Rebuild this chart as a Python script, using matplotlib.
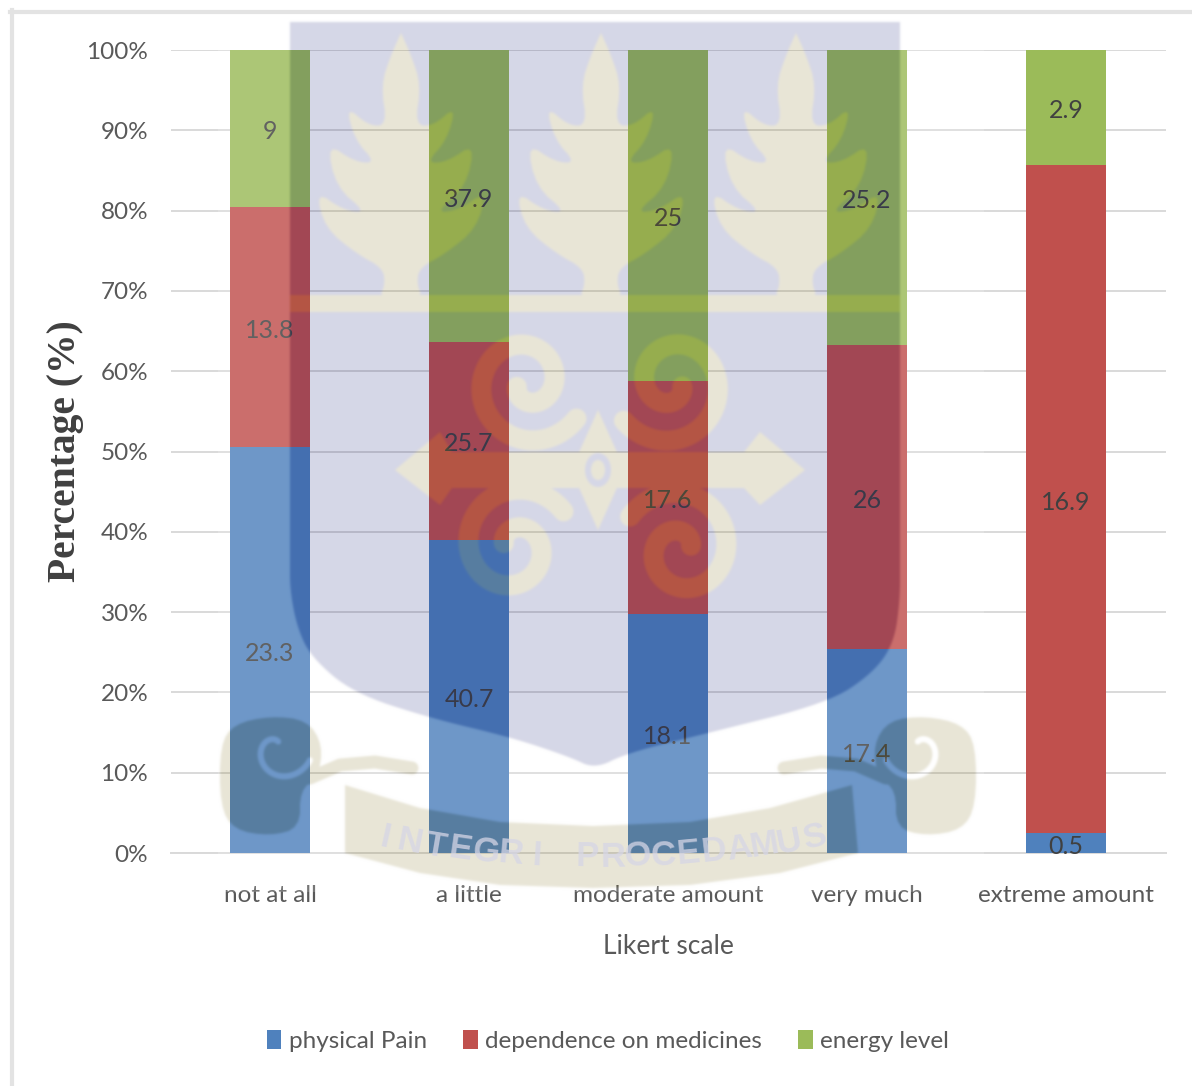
import numpy as np
import matplotlib
matplotlib.use('Agg')
import matplotlib.pyplot as plt
from matplotlib.figure import Figure
from matplotlib.backends.backend_agg import FigureCanvasAgg
from matplotlib.lines import Line2D
from matplotlib.patches import Polygon, Ellipse

plt.rcParams['font.family'] = ['Lato', 'DejaVu Sans']

categories = ['not at all', 'a little', 'moderate amount', 'very much', 'extreme amount']
physical_pain = [23.3, 40.7, 18.1, 17.4, 0.5]
dependence = [13.8, 25.7, 17.6, 26, 16.9]
energy_level = [9, 37.9, 25, 25.2, 2.9]
series_names = ['physical Pain', 'dependence on medicines', 'energy level']
series_colors = ['#4f81bd', '#c0504d', '#9bbb59']
motto = 'INTEGRI PROCEDAMUS'

W, H = 1192, 1086
NAVY = (22/255, 30/255, 119/255)
CREAM = (128/255, 111/255, 28/255)
STAMP_ALPHA = 0.18
px = 0.72  # one pixel in points at dpi 100


def chaikin(points, rounds=2, closed=True):
    # corner cutting, rounds off the hand placed outlines
    pts = np.array(points, dtype=float)
    for _ in range(rounds):
        nxt = np.roll(pts, -1, axis=0) if closed else pts[1:]
        cur = pts if closed else pts[:-1]
        q = 0.75 * cur + 0.25 * nxt
        r = 0.25 * cur + 0.75 * nxt
        new = np.empty((len(q) * 2, 2))
        new[0::2] = q
        new[1::2] = r
        pts = new if closed else np.vstack([pts[0], new, pts[-1]])
    return pts


def spiral(ax, cx, cy, r0, turns, start, direction, lw, color=CREAM):
    t = np.linspace(0, 1, 120)
    ang = start + direction * 2 * np.pi * turns * t
    r = r0 * (1 - 0.82 * t)
    ax.plot(cx + r * np.cos(ang), cy + r * np.sin(ang) * 1.05, color=color,
            lw=lw * px, solid_capstyle='round')


def draw_plant(ax, cx):
    half = [(0, 33), (10, 55), (20, 85), (14, 125), (32, 126), (55, 106), (46, 140),
            (25, 163), (46, 162), (74, 143), (65, 187), (34, 213), (58, 210), (85, 191),
            (76, 228), (44, 254), (18, 268), (16, 285), (22, 298)]
    right = [(cx + dx, y) for dx, y in half]
    left = [(cx - dx, y) for dx, y in half[::-1]]
    ax.add_patch(Polygon(chaikin(right + left), fc=CREAM, ec='none'))


def draw_scroll_end(ax, sign):
    # sign flips the end of the ribbon about the middle of the crest
    m = 598
    blob = [(220, 745), (234, 724), (270, 716), (307, 720), (323, 745), (318, 778), (300, 790),
            (300, 828), (270, 836), (234, 830), (220, 806)]
    ax.add_patch(Polygon([(m + sign * (x - m), y) for x, y in chaikin(blob)], fc=CREAM, ec='none'))
    xs = np.array([310, 340, 375, 412])
    ys = np.array([778, 765, 762, 768])
    ax.plot(m + sign * (xs - m), ys, color=CREAM, lw=13 * px, solid_capstyle='round')
    spiral(ax, m + sign * (278 - m), 748, 34, 0.7, np.radians(20 if sign > 0 else 160),
           sign, 6, color='white')


def watermark():
    f = Figure(figsize=(W / 100, H / 100), dpi=100)
    canvas = FigureCanvasAgg(f)
    ax = f.add_axes([0, 0, 1, 1])
    ax.set_xlim(0, W)
    ax.set_ylim(H, 0)
    ax.axis('off')
    f.patch.set_facecolor('white')

    lower_edge = [(900, 560), (900, 600), (894, 643), (873, 673), (828, 703), (708, 733),
                  (627, 753), (595, 769), (570, 757), (510, 737), (430, 718), (353, 693), (311, 657),
                  (297, 627), (290, 590), (290, 560)]
    shield = np.vstack([[(290, 22), (900, 22)], chaikin(lower_edge, 3, closed=False)])
    ax.add_patch(Polygon(shield, fc=NAVY, ec='none'))

    for cx in [401, 601, 796]:
        draw_plant(ax, cx)
    ax.fill_between([290, 900], 295, 312, color=CREAM, lw=0)

    # cross arms behind the four volutes
    ax.add_patch(Polygon([(395, 470), (440, 432), (452, 452), (744, 452), (760, 432), (805, 470),
                          (760, 505), (744, 488), (452, 488), (440, 505)], fc=CREAM, ec='none'))
    ax.add_patch(Polygon([(598, 410), (625, 470), (598, 530), (571, 470)], fc=CREAM, ec='none'))
    for cx, cy, start, d in [(527, 383, 0.6, 1), (672, 383, 2.5, -1),
                             (514, 547, -0.6, -1), (681, 550, 3.7, 1)]:
        spiral(ax, cx, cy, 60, 1.35, start, d, 20)
    ax.add_patch(Ellipse((598, 470), 26, 34, fc=NAVY, ec='none'))
    ax.add_patch(Ellipse((598, 470), 14, 20, fc=CREAM, ec='none'))

    draw_scroll_end(ax, 1)
    draw_scroll_end(ax, -1)
    ribbon = [(345, 785), (420, 808), (500, 822), (593, 826), (690, 822), (770, 808), (852, 785),
              (858, 853), (780, 873), (690, 885), (593, 888), (500, 885), (420, 873), (345, 853)]
    ax.add_patch(Polygon(ribbon, fc=CREAM, ec='none'))

    canvas.draw()
    rgba = np.asarray(canvas.buffer_rgba()).astype(float)
    # soften the crest edges a little
    for _ in range(3):
        rgba = (rgba + np.roll(rgba, 1, 0) + np.roll(rgba, -1, 0)
                + np.roll(rgba, 1, 1) + np.roll(rgba, -1, 1)) / 5
    rgba[..., 3] = 0
    rgba[16:892, 218:984, 3] = 255 * STAMP_ALPHA
    return rgba.astype(np.uint8)


totals = np.array(physical_pain) + np.array(dependence) + np.array(energy_level)
x = np.arange(len(categories))

fig = plt.figure(figsize=(W / 100, H / 100), dpi=100)
ax = fig.add_axes([170.5 / W, 1 - 853 / H, 995 / W, 803 / H])

bottom = np.zeros(len(categories))
bars = []
for values, name, color in zip([physical_pain, dependence, energy_level], series_names, series_colors):
    share = 100 * np.array(values) / totals
    b = ax.bar(x, share, 0.4, bottom=bottom, color=color, label=name, zorder=3)
    bars.append(b)
    for xi, bot, h, v in zip(x, bottom, share, values):
        ax.text(xi, bot + h / 2 - 0.4, f'{v:g}', ha='center', va='center', fontsize=18,
                color='#404040', zorder=4)
    bottom += share

ax.set_xlim(-0.5, 4.5)
ax.set_ylim(0, 100)
ax.set_yticks(np.arange(0, 101, 10))
ax.set_yticklabels([f'{v}%' for v in range(0, 101, 10)])
ax.set_xticks(x)
ax.set_xticklabels(categories)
ax.tick_params(axis='both', length=0, labelsize=17.5, labelcolor='#595959')
ax.tick_params(axis='x', pad=23)
ax.tick_params(axis='y', pad=16)
ax.grid(axis='y', color='#d9d9d9', lw=1.4, zorder=0)
ax.set_axisbelow(True)
for side in ['top', 'right', 'left']:
    ax.spines[side].set_visible(False)
ax.spines['bottom'].set_color('#d9d9d9')
ax.spines['bottom'].set_linewidth(1.4)

fig.text(668 / W, 1 - 946 / H, 'Likert scale', ha='center', va='center', fontsize=19, color='#595959')
fig.text(66 / W, 1 - 451 / H, 'Percentage (%)', rotation=90, ha='center', va='center', fontsize=28.5,
         family='Liberation Serif', fontweight='bold', color='#404040')

fig.legend(handles=[b[0] for b in bars], labels=series_names, loc='center', ncol=3,
           bbox_to_anchor=(608 / W, 1 - 1041 / H), frameon=False, fontsize=17.5, labelcolor='#595959',
           handlelength=0.6, handleheight=0.85, handletextpad=0.3, columnspacing=1.5)

# page edge of the scanned sheet
fig.add_artist(Line2D([10 / W, 1], [1 - 12 / H, 1 - 12 / H], color='#e3e3e3', lw=3))
fig.add_artist(Line2D([12 / W, 12 / W], [0, 1 - 10 / H], color='#e3e3e3', lw=3))

fig.figimage(watermark(), xo=0, yo=0, origin='upper', zorder=5)

# motto letters run along the curved ribbon
n = len(motto)
for i, ch in enumerate(motto):
    if ch == ' ':
        continue
    lx = 385 + i * (815 - 385) / (n - 1)
    u = (lx - 598) / 220
    ly = 857 - 20 * u ** 2
    fig.text(lx / W, 1 - ly / H, ch, rotation=13 * u, ha='center', va='center', fontsize=25,
             family='Liberation Sans', fontweight='bold', color=(0.84, 0.84, 0.90), alpha=0.75,
             zorder=6, rotation_mode='anchor')

fig.savefig('out.png', dpi=100)
